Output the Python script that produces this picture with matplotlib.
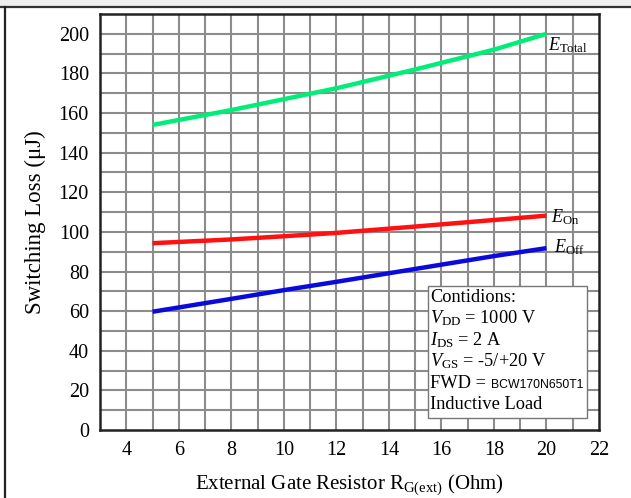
import matplotlib
matplotlib.use("Agg")
import matplotlib.pyplot as plt
from matplotlib.patches import Rectangle
from matplotlib.lines import Line2D

# Switching loss vs. external gate resistance
rg = [5, 8, 10, 12, 15, 18, 20]
e_total = [154, 161.5, 167, 172.5, 182, 192, 200]
e_on = [94.3, 96.2, 97.8, 99.5, 102.7, 106.0, 108.2]
e_off = [59.7, 66.2, 70.6, 74.8, 81.3, 87.8, 91.8]

x_ticks = [4, 6, 8, 10, 12, 14, 16, 18, 20, 22]
y_ticks = [0, 20, 40, 60, 80, 100, 120, 140, 160, 180, 200]

serif = ["Liberation Serif", "DejaVu Serif"]
plt.rcParams["font.family"] = serif
plt.rcParams["mathtext.fontset"] = "custom"
plt.rcParams["mathtext.rm"] = "Liberation Serif"
plt.rcParams["mathtext.it"] = "Liberation Serif:italic"

fig = plt.figure(figsize=(6.31, 4.98), dpi=100)

# page frame: grey strip on top with dark rules
fig.patches.append(Rectangle((0, 1 - 7 / 498), 1, 7 / 498, transform=fig.transFigure,
                             facecolor="#efefef", edgecolor="none", zorder=0))
fig.lines.append(Line2D([0, 1], [1 - 7 / 498, 1 - 7 / 498], transform=fig.transFigure,
                        color="#333333", lw=1.6))
fig.lines.append(Line2D([4.5 / 631, 4.5 / 631], [0, 1 - 7 / 498], transform=fig.transFigure,
                        color="#222222", lw=1.6))

ax = fig.add_axes([100 / 631, 68 / 498, 499 / 631, 416 / 498])
ax.set_xlim(3, 22)
ax.set_ylim(0, 210)

# fine grid every 1 ohm / 10 uJ
for xv in range(4, 22):
    ax.axvline(xv, color="#8c8c8c", lw=1.5, zorder=1)
for yv in range(10, 210, 10):
    ax.axhline(yv, color="#8c8c8c", lw=1.5, zorder=1)

ax.plot(rg, e_total, color="#00ee77", lw=3.2, solid_capstyle="butt", zorder=3)
ax.plot(rg, e_on, color="#ff1111", lw=3.2, solid_capstyle="butt", zorder=3)
ax.plot(rg, e_off, color="#0a0adc", lw=3.2, solid_capstyle="butt", zorder=3)

ax.text(20.06, 194.4, r"$E_{\mathrm{Total}}$", fontsize=13, va="center", ha="left", zorder=4)
ax.text(20.16, 107.7, r"$E_{\mathrm{On}}$", fontsize=13, va="center", ha="left", zorder=4)
ax.text(20.29, 92.5, r"$E_{\mathrm{Off}}$", fontsize=13, va="center", ha="left", zorder=4)

# test conditions box
box_x0, box_y0 = 15.49, 6.1
ax.add_patch(Rectangle((box_x0, box_y0), 6.06, 66.6, facecolor="white",
                       edgecolor="#777777", lw=1.0, zorder=5))
lines = [
    r"Contidions:",
    r"$V_{\mathrm{DD}}$ = 1000 V",
    r"$I_{\mathrm{DS}}$ = 2 A",
    r"$V_{\mathrm{GS}}$ = -5/+20 V",
    None,
    r"Inductive Load",
]
ybase = 64.6
step = 10.8
tx = 15.57
for i, s in enumerate(lines):
    yy = ybase - i * step
    if s is None:
        t = ax.text(tx, yy, "FWD = ", fontsize=13.2, va="baseline", ha="left", zorder=6)
        fig.canvas.draw()
        bb = t.get_window_extent()
        xe = ax.transData.inverted().transform((bb.x1, bb.y0))[0]
        ax.text(xe, yy, "BCW170N650T1", fontsize=8.8,
                family=["Liberation Sans", "DejaVu Sans"],
                va="baseline", ha="left", zorder=6)
    else:
        ax.text(tx, yy, s, fontsize=13.2, va="baseline", ha="left", zorder=6)

ax.set_xticks(x_ticks)
ax.set_yticks(y_ticks)
ax.tick_params(length=0, labelsize=14.5, pad=8)
for sp in ax.spines.values():
    sp.set_linewidth(1.8)
    sp.set_color("#222222")
    sp.set_zorder(7)

ax.set_xlabel(r"External Gate Resistor R$_{\mathrm{G(ext)}}$ (Ohm)", fontsize=15, labelpad=9)
ax.set_ylabel("Switching Loss (μJ)", fontsize=16.5, labelpad=9)

fig.savefig("out.png", dpi=100)
